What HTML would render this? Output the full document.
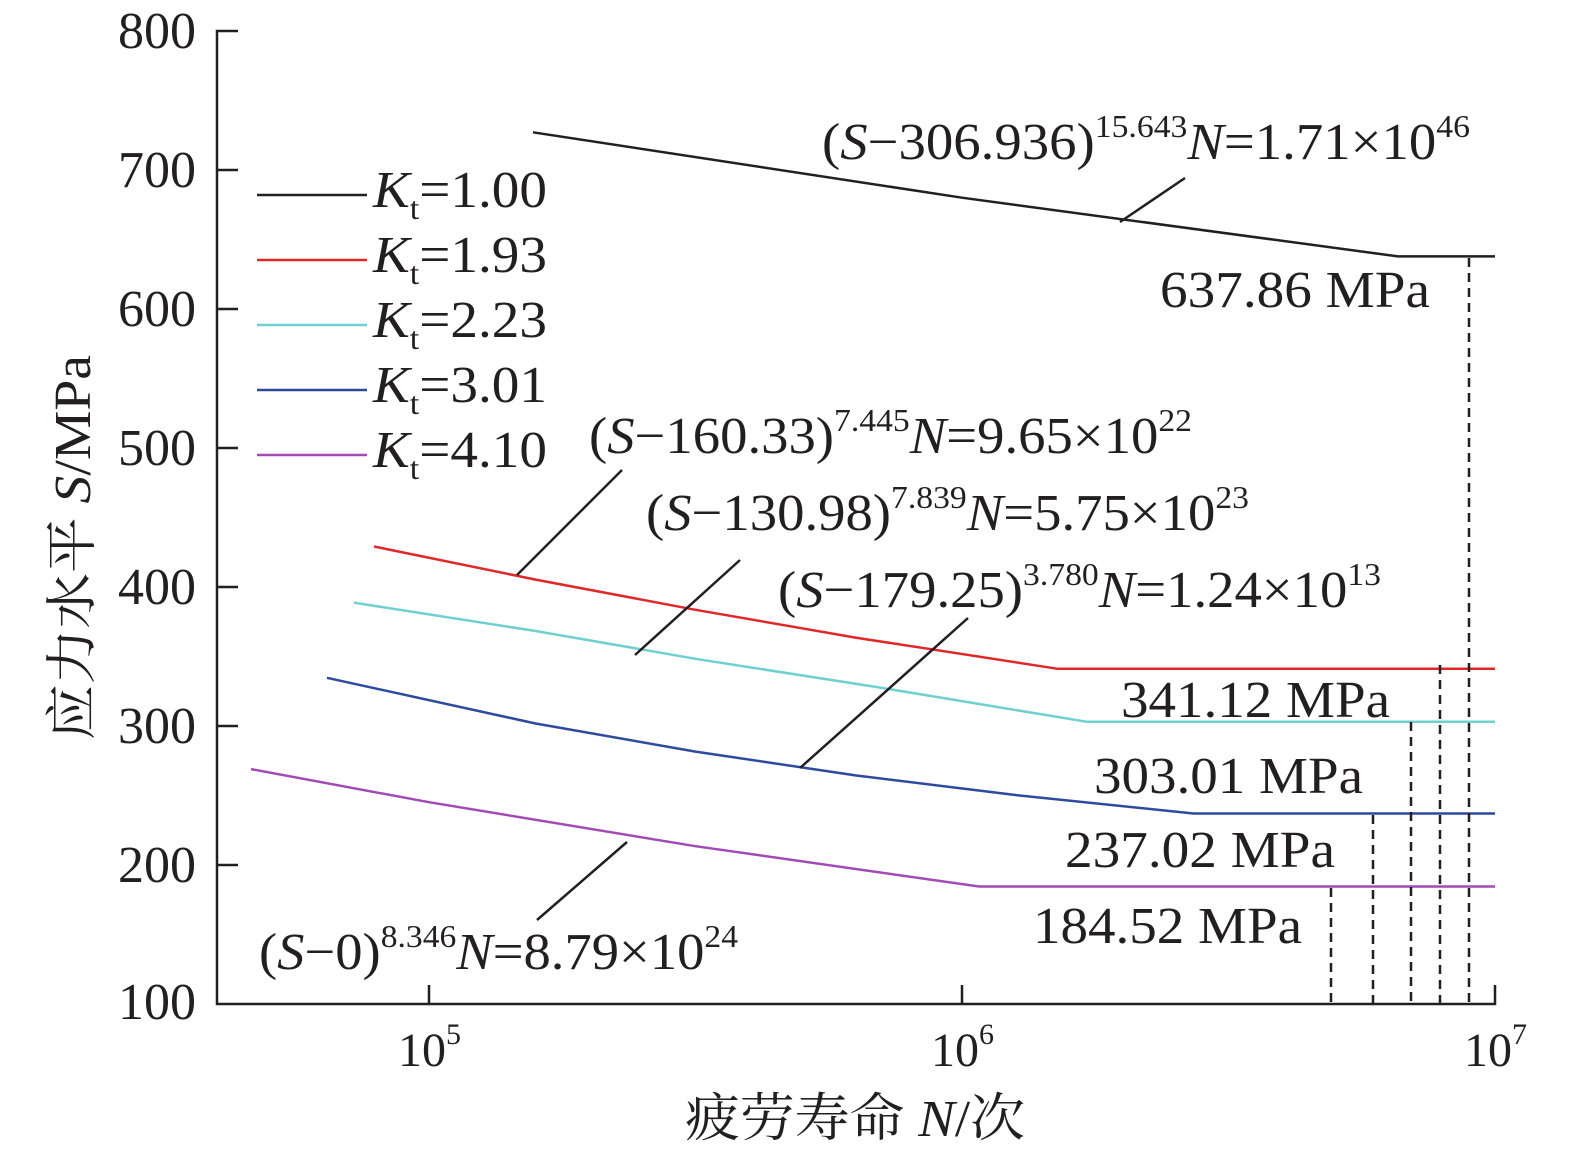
<!DOCTYPE html>
<html><head><meta charset="utf-8"><style>
body{margin:0;background:#fff}
svg{display:block}
text{font-family:"Liberation Serif","Noto Serif CJK SC",serif;fill:#231f20}
</style></head><body>
<svg width="1575" height="1167" viewBox="0 0 1575 1167" xmlns="http://www.w3.org/2000/svg">
<g stroke="#231f20" stroke-width="2.5" fill="none">
<path d="M238 31H217V1004H1495V985"/>
<path d="M217 170H238M217 309H238M217 448H238M217 587H238M217 726H238M217 865H238"/>
<path d="M429 1004V985M962 1004V985"/>
</g>
<g font-size="52" text-anchor="end">
<text x="196" y="48">800</text><text x="196" y="187">700</text><text x="196" y="326">600</text>
<text x="196" y="465">500</text><text x="196" y="604">400</text><text x="196" y="743">300</text>
<text x="196" y="882">200</text><text x="196" y="1019">100</text>
</g>
<g font-size="48">
<text x="398" y="1066">10<tspan font-size="30" dy="-22">5</tspan></text>
<text x="931" y="1066">10<tspan font-size="30" dy="-22">6</tspan></text>
<text x="1464" y="1066">10<tspan font-size="30" dy="-22">7</tspan></text>
</g>
<text x="685" y="1136" font-size="52" textLength="340" lengthAdjust="spacingAndGlyphs">疲劳寿命 <tspan font-style="italic">N</tspan>/次</text>
<text transform="translate(90,740) rotate(-90)" font-size="52" textLength="385" lengthAdjust="spacingAndGlyphs">应力水平 <tspan font-style="italic">S</tspan>/MPa</text>
<g fill="none" stroke-width="2.5">
<path stroke="#231f20" d="M533 132.3L962 197.7L1398 256.4H1495"/>
<path stroke="#e0282a" d="M374 546.5L535.6 579.6L695.5 609.8L855.4 637.6L1057.7 668.8H1495"/>
<path stroke="#6fd0d0" d="M354 602.7L535.6 631L695.5 658.8L882 687.9L1087 721.8H1495"/>
<path stroke="#2e4a9e" d="M327 677.8L535.6 723.5L695.5 751.6L855.4 775.4L1015.3 795L1193.4 813.5H1495"/>
<path stroke="#a24ab5" d="M251 769.1L429 802.2L695.5 846.2L979 886.5H1495"/>
</g>
<g stroke="#231f20" stroke-width="2.5">
<path d="M1185 178L1120 222M622 470L517 575M740 560L635 655M968 618L800 768M627 842L537 920"/>
<g stroke-dasharray="9,6">
<path d="M1469 258V1004M1440 665V1004M1411 722V1004M1373 815V1004M1331 888V1004"/>
</g>
</g>
<g stroke-width="2.5">
<path stroke="#231f20" d="M257 195H367"/><path stroke="#e0282a" d="M257 260H367"/>
<path stroke="#6fd0d0" d="M257 325H367"/><path stroke="#2e4a9e" d="M257 390H367"/>
<path stroke="#a24ab5" d="M257 455H367"/>
</g>
<g font-size="52">
<text x="373" y="207" textLength="174" lengthAdjust="spacingAndGlyphs"><tspan font-style="italic">K</tspan><tspan font-size="32" dy="12">t</tspan><tspan dy="-12">=1.00</tspan></text>
<text x="373" y="272" textLength="174" lengthAdjust="spacingAndGlyphs"><tspan font-style="italic">K</tspan><tspan font-size="32" dy="12">t</tspan><tspan dy="-12">=1.93</tspan></text>
<text x="373" y="337" textLength="174" lengthAdjust="spacingAndGlyphs"><tspan font-style="italic">K</tspan><tspan font-size="32" dy="12">t</tspan><tspan dy="-12">=2.23</tspan></text>
<text x="373" y="402" textLength="174" lengthAdjust="spacingAndGlyphs"><tspan font-style="italic">K</tspan><tspan font-size="32" dy="12">t</tspan><tspan dy="-12">=3.01</tspan></text>
<text x="373" y="467" textLength="174" lengthAdjust="spacingAndGlyphs"><tspan font-style="italic">K</tspan><tspan font-size="32" dy="12">t</tspan><tspan dy="-12">=4.10</tspan></text>
<text x="822" y="159" textLength="648" lengthAdjust="spacingAndGlyphs">(<tspan font-style="italic">S</tspan>−306.936)<tspan font-size="32" dy="-22">15.643</tspan><tspan dy="22" font-style="italic">N</tspan>=1.71×10<tspan font-size="32" dy="-22">46</tspan></text>
<text x="589" y="453" textLength="603" lengthAdjust="spacingAndGlyphs">(<tspan font-style="italic">S</tspan>−160.33)<tspan font-size="32" dy="-22">7.445</tspan><tspan dy="22" font-style="italic">N</tspan>=9.65×10<tspan font-size="32" dy="-22">22</tspan></text>
<text x="646" y="530" textLength="603" lengthAdjust="spacingAndGlyphs">(<tspan font-style="italic">S</tspan>−130.98)<tspan font-size="32" dy="-22">7.839</tspan><tspan dy="22" font-style="italic">N</tspan>=5.75×10<tspan font-size="32" dy="-22">23</tspan></text>
<text x="778" y="607" textLength="603" lengthAdjust="spacingAndGlyphs">(<tspan font-style="italic">S</tspan>−179.25)<tspan font-size="32" dy="-22">3.780</tspan><tspan dy="22" font-style="italic">N</tspan>=1.24×10<tspan font-size="32" dy="-22">13</tspan></text>
<text x="259" y="969" textLength="479" lengthAdjust="spacingAndGlyphs">(<tspan font-style="italic">S</tspan>−0)<tspan font-size="32" dy="-22">8.346</tspan><tspan dy="22" font-style="italic">N</tspan>=8.79×10<tspan font-size="32" dy="-22">24</tspan></text>
<text x="1160" y="307" textLength="270" lengthAdjust="spacingAndGlyphs">637.86 MPa</text>
<text x="1121" y="717" textLength="269" lengthAdjust="spacingAndGlyphs">341.12 MPa</text>
<text x="1094" y="793" textLength="269" lengthAdjust="spacingAndGlyphs">303.01 MPa</text>
<text x="1065" y="867" textLength="270" lengthAdjust="spacingAndGlyphs">237.02 MPa</text>
<text x="1033" y="943" textLength="269" lengthAdjust="spacingAndGlyphs">184.52 MPa</text>
</g>
</svg>
</body></html>
